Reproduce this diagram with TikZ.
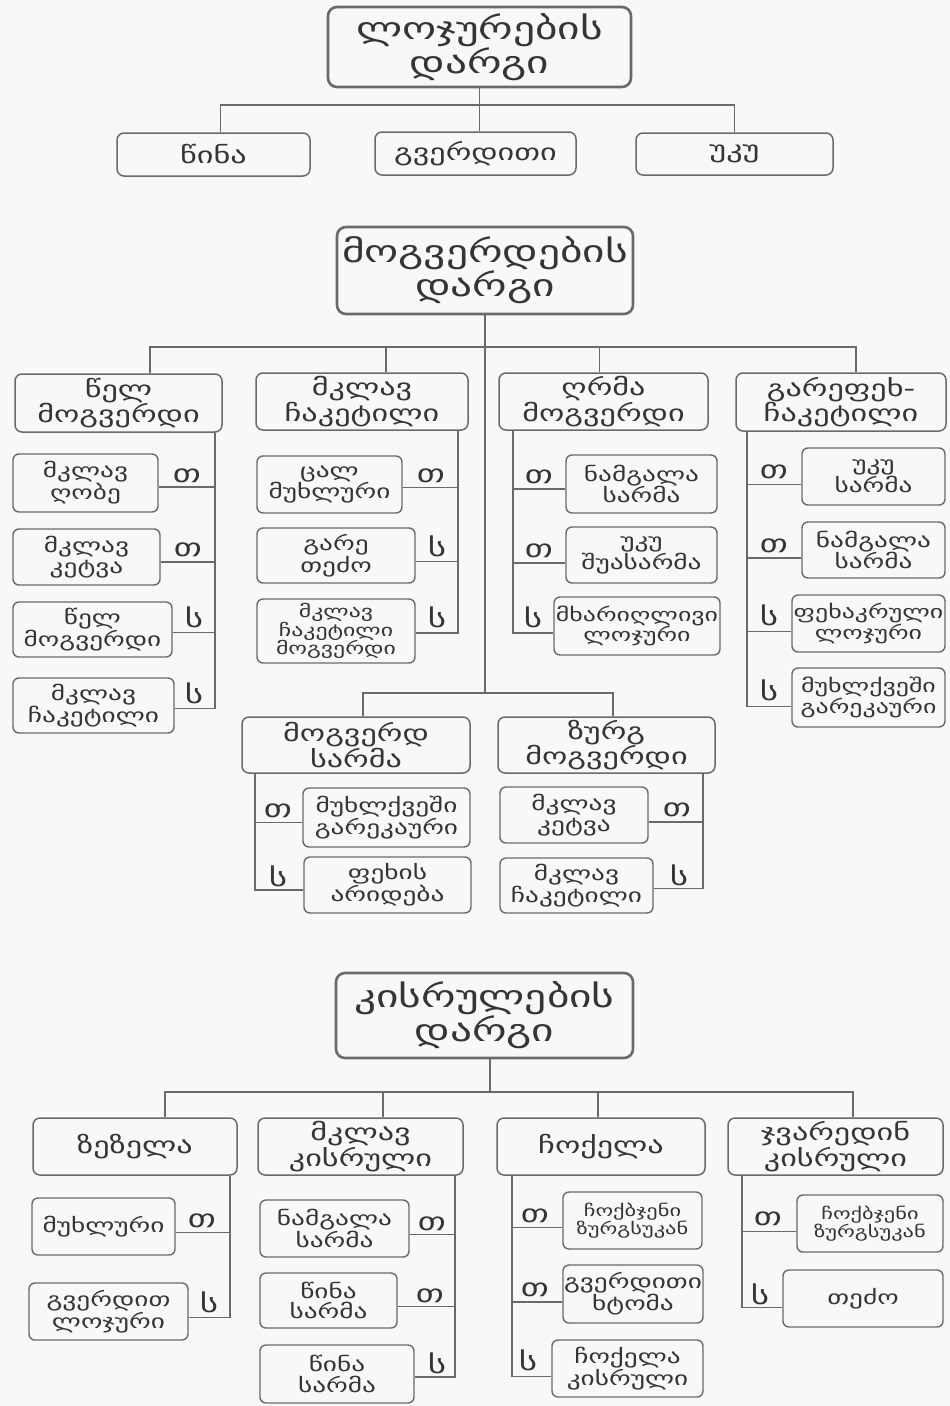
\documentclass[tikz,border=0pt]{standalone}
\usepackage{fontspec}
\newfontfamily\geo[FakeStretch=1.4]{DejaVu Sans}
\definecolor{ln}{HTML}{6A6A6A}
\definecolor{tx}{HTML}{353535}
\definecolor{bg}{HTML}{F8F8F6}
\tikzset{
 ttl/.style={draw=ln, line width=2.6pt, rounded corners=9pt, align=center, inner sep=0pt, text=tx, font=\geo\fontsize{31}{34}\selectfont},
 cat/.style={draw=ln, line width=1.5pt, rounded corners=7pt, align=center, inner sep=0pt, text=tx, font=\geo\fontsize{23}{24.5}\selectfont},
 itm/.style={draw=ln, line width=1.4pt, rounded corners=6pt, align=center, inner sep=0pt, text=tx, font=\geo\fontsize{19.5}{20.5}\selectfont},
 lab/.style={anchor=base, inner sep=0pt, text=tx, font=\geo\fontsize{25}{25}\selectfont},
 conn/.style={draw=ln, line width=1.4pt},
 sz/.style 2 args={minimum width=#1pt, minimum height=#2pt}
}
\begin{document}
\begin{tikzpicture}[x=1pt,y=-1pt]
\fill[bg] (0,0) rectangle (950,1406);
\useasboundingbox (0,0) rectangle (950,1406);

% ---------- top section ----------
\node[ttl, sz={303}{80}] (T1) at (479.5,47) {ლოჯურების\\დარგი};
\node[cat, sz={193}{43}] (a1) at (213.5,154.5) {წინა};
\node[cat, sz={201}{43}] (a2) at (475.5,153.5) {გვერდითი};
\node[cat, sz={197}{42}] (a3) at (734.5,154) {უკუ};
\coordinate (J1) at (479.5,105);
\draw[conn] ([xshift=7pt]a1.north) |- (J1) -| (a3.north);
\draw[conn] (T1.south) -- (J1);
\draw[conn] (J1) -- (J1 |- a2.north);

% ---------- middle section ----------
\node[ttl, sz={296}{87}] (T2) at (485,270.5) {მოგვერდების\\დარგი};
\node[cat, sz={207}{58}] (b1) at (118.5,403) {წელ\\მოგვერდი};
\node[cat, sz={212}{57}] (b2) at (362,401.5) {მკლავ\\ჩაკეტილი};
\node[cat, sz={209}{57}] (b3) at (603.5,401.5) {ღრმა\\მოგვერდი};
\node[cat, sz={210}{58}] (b4) at (841,402) {გარეფეხ-\\ჩაკეტილი};
\coordinate (J2) at (485,347);
\coordinate (J3) at (485,693);
\draw[conn] ([xshift=31.5pt]b1.north) |- (J2) -| ([xshift=15pt]b4.north);
\draw[conn] ([xshift=24pt]b2.north) -- ([xshift=24pt]b2.north |- J2);
\draw[conn] ([xshift=-4pt]b3.north) -- ([xshift=-4pt]b3.north |- J2);
\draw[conn] (T2.south) -- (J3);

% column 1
\node[itm, sz={145}{58}] (c11) at (85.5,483) {მკლავ\\ღობე};
\node[itm, sz={147}{56}] (c12) at (86.5,557) {მკლავ\\კეტვა};
\node[itm, sz={159}{55}] (c13) at (92.5,629.5) {წელ\\მოგვერდი};
\node[itm, sz={161}{55}] (c14) at (93.5,705.5) {მკლავ\\ჩაკეტილი};
\coordinate (s1) at ([xshift=96.5pt]b1.south);
\path ([yshift=-4pt]c11.east) coordinate (k11);
\path ([yshift=-5pt]c12.east) coordinate (k12);
\path ([yshift=-3pt]c13.east) coordinate (k13);
\path ([yshift=-3pt]c14.east) coordinate (k14);
\draw[conn] (s1) |- (k14);
\draw[conn] (k11) -- (k11 -| s1);
\draw[conn] (k12) -- (k12 -| s1);
\draw[conn] (k13) -- (k13 -| s1);
\node[lab] (l11) at (187,482) {თ};
\node[lab] (l12) at (188,556) {თ};
\node[lab] (l13) at (194,627) {ს};
\node[lab] (l14) at (194,703) {ს};

% column 2
\node[itm, sz={145}{57}] (c21) at (329.5,484.5) {ცალ\\მუხლური};
\node[itm, sz={158}{55}] (c22) at (336,555.5) {გარე\\თეძო};
\node[itm, sz={158}{64}, font=\geo\fontsize{17}{18.5}\selectfont] (c23) at (336,631) {მკლავ\\ჩაკეტილი\\მოგვერდი};
\coordinate (s2) at ([xshift=96pt]b2.south);
\path ([yshift=-3pt]c21.east) coordinate (k21);
\path ([yshift=-6pt]c22.east) coordinate (k22);
\path ([yshift=-2pt]c23.east) coordinate (k23);
\draw[conn] (s2) |- (k23);
\draw[conn] (k21) -- (k21 -| s2);
\draw[conn] (k22) -- (k22 -| s2);
\node[lab] (l21) at (431,482) {თ};
\node[lab] (l22) at (437,556) {ს};
\node[lab] (l23) at (437,627) {ს};

% column 3
\node[itm, sz={151}{58}] (c31) at (641.5,484) {ნამგალა\\სარმა};
\node[itm, sz={151}{56}] (c32) at (641.5,555) {უკუ\\შუასარმა};
\node[itm, sz={166}{58}, font=\geo\fontsize{18.5}{20.5}\selectfont] (c33) at (637,626) {მხარიღლივი\\ლოჯური};
\coordinate (s3) at ([xshift=-90.5pt]b3.south);
\path ([yshift=-5pt]c31.west) coordinate (k31);
\path ([yshift=-8pt]c32.west) coordinate (k32);
\path ([yshift=-7pt]c33.west) coordinate (k33);
\draw[conn] (s3) |- (k33);
\draw[conn] (k31) -- (k31 -| s3);
\draw[conn] (k32) -- (k32 -| s3);
\node[lab] (l31) at (539,483) {თ};
\node[lab] (l32) at (539,557) {თ};
\node[lab] (l33) at (533,627) {ს};

% column 4
\node[itm, sz={143}{57}] (c41) at (873.5,476.5) {უკუ\\სარმა};
\node[itm, sz={143}{56}] (c42) at (873.5,550) {ნამგალა\\სარმა};
\node[itm, sz={153}{57}, font=\geo\fontsize{18.5}{20.5}\selectfont] (c43) at (868.5,623.5) {ფეხაკრული\\ლოჯური};
\node[itm, sz={153}{59}, font=\geo\fontsize{18.5}{20.5}\selectfont] (c44) at (868.5,697.5) {მუხლქვეში\\გარეკაური};
\coordinate (s4) at ([xshift=-94pt]b4.south);
\path ([yshift=-8pt]c41.west) coordinate (k41);
\path ([yshift=-8pt]c42.west) coordinate (k42);
\path ([yshift=-8pt]c43.west) coordinate (k43);
\path ([yshift=-9pt]c44.west) coordinate (k44);
\draw[conn] (s4) |- (k44);
\draw[conn] (k41) -- (k41 -| s4);
\draw[conn] (k42) -- (k42 -| s4);
\draw[conn] (k43) -- (k43 -| s4);
\node[lab] (l41) at (774,478) {თ};
\node[lab] (l42) at (774,552) {თ};
\node[lab] (l43) at (769,625) {ს};
\node[lab] (l44) at (769,700) {ს};

% lower pair
\node[cat, sz={228}{56}] (d1) at (356,745) {მოგვერდ\\სარმა};
\node[cat, sz={217}{56}] (d2) at (606.5,745) {ზურგ\\მოგვერდი};
\draw[conn] ([xshift=7pt]d1.north) |- (J3) -| ([xshift=6.5pt]d2.north);

\node[itm, sz={167}{59}] (e11) at (386.5,817.5) {მუხლქვეში\\გარეკაური};
\node[itm, sz={167}{56}] (e12) at (387.5,885) {ფეხის\\არიდება};
\coordinate (s5) at ([xshift=-101pt]d1.south);
\path ([yshift=-5pt]e11.west) coordinate (k51);
\path ([yshift=-5pt]e12.west) coordinate (k52);
\draw[conn] (s5) |- (k52);
\draw[conn] (k51) -- (k51 -| s5);
\node[lab] (l51) at (278,817) {თ};
\node[lab] (l52) at (278,886) {ს};

\node[itm, sz={148}{56}] (e21) at (574,815) {მკლავ\\კეტვა};
\node[itm, sz={153}{55}] (e22) at (576.5,885.5) {მკლავ\\ჩაკეტილი};
\coordinate (s6) at ([xshift=96.5pt]d2.south);
\path ([yshift=-7pt]e21.east) coordinate (k61);
\path ([yshift=-3pt]e22.east) coordinate (k62);
\draw[conn] (s6) |- (k62);
\draw[conn] (k61) -- (k61 -| s6);
\node[lab] (l61) at (677,816) {თ};
\node[lab] (l62) at (679,885) {ს};

% ---------- bottom section ----------
\node[ttl, sz={297}{85}] (T3) at (484.5,1015.5) {კისრულების\\დარგი};
\node[cat, sz={204}{57}] (f1) at (135,1146.5) {ზეზელა};
\node[cat, sz={205}{57}] (f2) at (360.5,1146.5) {მკლავ\\კისრული};
\node[cat, sz={208}{57}] (f3) at (601,1146.5) {ჩოქელა};
\node[cat, sz={215}{57}] (f4) at (835.5,1146.5) {ჯვარედინ\\კისრული};
\coordinate (J4) at (490,1092);
\draw[conn] ([xshift=30pt]f1.north) |- (J4) -| ([xshift=17.5pt]f4.north);
\draw[conn] ([xshift=5.5pt]T3.south) -- (J4);
\draw[conn] ([xshift=22.5pt]f2.north) -- ([xshift=22.5pt]f2.north |- J4);
\draw[conn] ([xshift=-3pt]f3.north) -- ([xshift=-3pt]f3.north |- J4);

% f1 children
\node[itm, sz={143}{57}] (g11) at (103.5,1226.5) {მუხლური};
\node[itm, sz={159}{57}] (g12) at (108.5,1311.5) {გვერდით\\ლოჯური};
\coordinate (s7) at ([xshift=95pt]f1.south);
\path ([yshift=-6pt]g11.east) coordinate (k71);
\path ([yshift=-6pt]g12.east) coordinate (k72);
\draw[conn] (s7) |- (k72);
\draw[conn] (k71) -- (k71 -| s7);
\node[lab] (l71) at (202,1227) {თ};
\node[lab] (l72) at (209,1312) {ს};

% f2 children
\node[itm, sz={149}{57}] (g21) at (334.5,1228.5) {ნამგალა\\სარმა};
\node[itm, sz={137}{55}] (g22) at (328.5,1300.5) {წინა\\სარმა};
\node[itm, sz={154}{58}] (g23) at (337,1374) {წინა\\სარმა};
\coordinate (s8) at ([xshift=94.5pt]f2.south);
\path ([yshift=-6pt]g21.east) coordinate (k81);
\path ([yshift=-6pt]g22.east) coordinate (k82);
\path ([yshift=-3pt]g23.east) coordinate (k83);
\draw[conn] (s8) |- (k83);
\draw[conn] (k81) -- (k81 -| s8);
\draw[conn] (k82) -- (k82 -| s8);
\node[lab] (l81) at (432,1230) {თ};
\node[lab] (l82) at (430,1302) {თ};
\node[lab] (l83) at (437,1373) {ს};

% f3 children
\node[itm, sz={139}{57}, font=\geo\fontsize{16}{18.5}\selectfont] (g31) at (632.5,1220.5) {ჩოქბჯენი\\ზურგსუკან};
\node[itm, sz={140}{58}] (g32) at (633,1294) {გვერდითი\\ხტომა};
\node[itm, sz={151}{57}] (g33) at (627.5,1368.5) {ჩოქელა\\კისრული};
\coordinate (s9) at ([xshift=-89pt]f3.south);
\path ([yshift=-7pt]g31.west) coordinate (k91);
\path ([yshift=-8pt]g32.west) coordinate (k92);
\path ([yshift=-8pt]g33.west) coordinate (k93);
\draw[conn] (s9) |- (k93);
\draw[conn] (k91) -- (k91 -| s9);
\draw[conn] (k92) -- (k92 -| s9);
\node[lab] (l91) at (535,1222) {თ};
\node[lab] (l92) at (535,1296) {თ};
\node[lab] (l93) at (528,1370) {ს};

% f4 children
\node[itm, sz={146}{57}, font=\geo\fontsize{16}{18.5}\selectfont] (g41) at (870,1223.5) {ჩოქბჯენი\\ზურგსუკან};
\node[itm, sz={160}{57}] (g42) at (863,1298.5) {თეძო};
\coordinate (s10) at ([xshift=-93.5pt]f4.south);
\path ([yshift=-8pt]g41.west) coordinate (k101);
\path ([yshift=-9pt]g42.west) coordinate (k102);
\draw[conn] (s10) |- (k102);
\draw[conn] (k101) -- (k101 -| s10);
\node[lab] (l101) at (768,1225) {თ};
\node[lab] (l102) at (760,1304) {ს};
\end{tikzpicture}
\end{document}
